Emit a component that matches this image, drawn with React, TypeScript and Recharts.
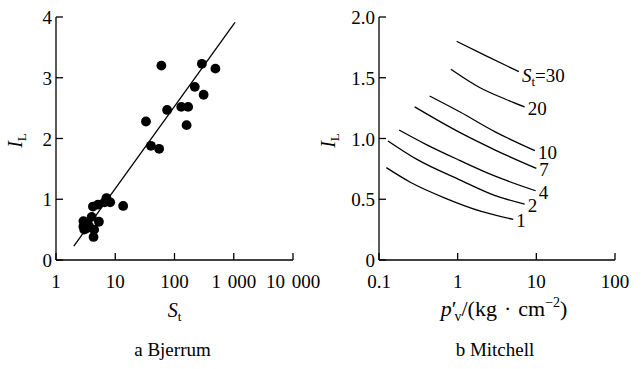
import React from 'react';
import { ScatterChart, Scatter, XAxis, YAxis } from 'recharts';

const FONT = 'Liberation Serif, DejaVu Serif, Times New Roman, serif';
const INK = '#000';

// a Bjerrum: sensitivity St against liquidity index IL
const bjerrumSt = [60, 290, 490, 220, 310, 75, 130, 170, 160, 33, 40, 55,
  4.2, 5.1, 7.1, 6.6, 8.2, 13.6, 4.0, 3.3, 2.9, 2.9, 3.3, 5.3, 4.4, 3.6, 4.3, 3.0];
const bjerrumIL = [3.2, 3.23, 3.15, 2.85, 2.72, 2.47, 2.52, 2.52, 2.22, 2.28, 1.88, 1.83,
  0.88, 0.91, 1.02, 0.95, 0.95, 0.89, 0.71, 0.62, 0.64, 0.55, 0.52, 0.63, 0.5, 0.56, 0.38, 0.5];
const fitSt = [2, 1050];
const fitIL = [0.23, 3.91];
const bjerrumXTicks = [1, 10, 100, 1000, 10000];
const bjerrumXLabels = ['1', '10', '100', '1 000', '10 000'];
const bjerrumYTicks = [0, 1, 2, 3, 4];

// b Mitchell: IL against effective vertical stress, one curve per St
const mitchellSt = ['30', '20', '10', '7', '4', '2', '1'];
const mitchellP = [
  [0.97, 2.3, 6],
  [0.82, 1.9, 4, 7.1],
  [0.44, 1.06, 3, 9.6],
  [0.284, 1.06, 3, 10],
  [0.18, 0.4, 1.06, 3, 9.8],
  [0.13, 0.3, 1.06, 3, 7.1],
  [0.124, 0.25, 0.69, 2, 5.1],
];
const mitchellIL = [
  [1.8, 1.68, 1.55],
  [1.57, 1.42, 1.325, 1.26],
  [1.35, 1.22, 1.055, 0.9],
  [1.26, 1.05, 0.905, 0.754],
  [1.07, 0.95, 0.82, 0.69, 0.57],
  [0.98, 0.83, 0.66, 0.53, 0.46],
  [0.76, 0.64, 0.51, 0.4, 0.334],
];
const mitchellXTicks = [0.1, 1, 10, 100];
const mitchellYTicks = [0, 0.5, 1, 1.5, 2];

const bjerrumData = bjerrumSt.map((st, i) => ({ st, il: bjerrumIL[i] }));
const fitData = fitSt.map((st, i) => ({ st, il: fitIL[i] }));
const mitchellData = mitchellP.map((ps, c) =>
  ps.map((p, i) => ({ p, il: mitchellIL[c][i], label: i === ps.length - 1 ? mitchellSt[c] : null }))
);

const txt = { fontFamily: FONT, fill: INK };

const XTick = (props: any) => {
  const { x, y, payload, fmt } = props;
  return (
    <g>
      <line x1={x} x2={x} y1={y} y2={y - 7} stroke={INK} strokeWidth={1.3} />
      <text x={x} y={y + 28} textAnchor="middle" fontSize={19} fontFamily={FONT} style={{ ...txt, wordSpacing: 2 }}>
        {fmt(payload.value)}
      </text>
    </g>
  );
};

const YTick = (props: any) => {
  const { x, y, payload, fmt } = props;
  return (
    <g>
      <line x1={x} x2={x + 7} y1={y} y2={y} stroke={INK} strokeWidth={1.3} />
      <text x={x - 4} y={y + 7} textAnchor="end" fontSize={19} fontFamily={FONT} style={txt}>
        {fmt(payload.value)}
      </text>
    </g>
  );
};

const ILTitle = (props: any) => {
  const vb = props.viewBox || { x: 0, y: 0, width: 0, height: 0 };
  const x = vb.x + props.at;
  const y = vb.y + vb.height / 2 + 2;
  return (
    <text x={x} y={y} textAnchor="middle" transform={`rotate(-90, ${x}, ${y})`} fontSize={20} fontFamily={FONT} style={txt}>
      <tspan fontStyle="italic">I</tspan>
      <tspan fontSize={13} dy={4}>L</tspan>
    </text>
  );
};

const BjerrumTitle = (props: any) => {
  const vb = props.viewBox || { x: 0, y: 0, width: 0, height: 0 };
  const cx = vb.x + vb.width / 2;
  return (
    <g>
      <text x={cx} y={vb.y + 57} textAnchor="middle" fontSize={20} fontFamily={FONT} style={txt}>
        <tspan fontStyle="italic">S</tspan>
        <tspan fontSize={13} dy={4}>t</tspan>
      </text>
      <text x={cx - 2} y={vb.y + 96} textAnchor="middle" fontSize={19} fontFamily={FONT} style={txt}>a Bjerrum</text>
    </g>
  );
};

const MitchellTitle = (props: any) => {
  const vb = props.viewBox || { x: 0, y: 0, width: 0, height: 0 };
  const cx = vb.x + vb.width / 2;
  return (
    <g>
      <text x={cx + 7} y={vb.y + 56} textAnchor="middle" fontSize={22} fontFamily={FONT} style={txt}>
        <tspan fontStyle="italic">p</tspan>
        <tspan>′</tspan>
        <tspan fontSize={14} dy={5} dx={-2}>v</tspan>
        <tspan dy={-5}>/(kg</tspan>
        <tspan dx={7}>·</tspan>
        <tspan dx={7}>cm</tspan>
        <tspan fontSize={14} dy={-9}>−2</tspan>
        <tspan dy={9}>)</tspan>
      </text>
      <text x={cx - 2} y={vb.y + 96} textAnchor="middle" fontSize={19} fontFamily={FONT} style={txt}>b Mitchell</text>
    </g>
  );
};

const Dot = (props: any) => <circle cx={props.cx} cy={props.cy} r={4.9} fill={INK} />;
const Empty = () => <g />;

const CurveEnd = (props: any) => {
  const lab = props.payload && props.payload.label;
  if (!lab) return <g />;
  const x = props.cx + 3;
  const y = props.cy + 8;
  if (lab === '30') {
    return (
      <text x={x} y={y + 2} fontSize={19} fontFamily={FONT} style={txt}>
        <tspan fontStyle="italic">S</tspan>
        <tspan fontSize={13} dy={4}>t</tspan>
        <tspan dy={-4}>=30</tspan>
      </text>
    );
  }
  return (
    <text x={x} y={y} fontSize={19} fontFamily={FONT} style={txt}>{lab}</text>
  );
};

const axisLine = { stroke: INK, strokeWidth: 1.3 };

export default function App() {
  return (
    <div style={{ position: 'absolute', left: 0, top: 0, width: 643, height: 369, background: '#fff', fontFamily: FONT }}>
      <div style={{ position: 'absolute', left: 0, top: 0 }}>
        <ScatterChart width={340} height={369} margin={{ top: 17, right: 47, bottom: 0, left: 0 }}>
          <XAxis
            type="number"
            dataKey="st"
            scale="log"
            domain={[1, 10000]}
            ticks={bjerrumXTicks}
            interval={0}
            allowDataOverflow
            height={109}
            tickSize={0}
            tickMargin={0}
            tickLine={false}
            axisLine={axisLine}
            tick={(p: any) => <XTick {...p} fmt={(v: number) => bjerrumXLabels[bjerrumXTicks.indexOf(v)]} />}
            label={{ content: (p: any) => <BjerrumTitle {...p} /> }}
          />
          <YAxis
            type="number"
            dataKey="il"
            domain={[0, 4]}
            ticks={bjerrumYTicks}
            interval={0}
            width={56}
            tickSize={0}
            tickMargin={0}
            tickLine={false}
            axisLine={axisLine}
            tick={(p: any) => <YTick {...p} fmt={(v: number) => String(v)} />}
            label={{ content: (p: any) => <ILTitle {...p} at={22} /> }}
          />
          <Scatter data={bjerrumData} shape={Dot} isAnimationActive={false} />
          <Scatter data={fitData} shape={Empty} line={{ stroke: INK, strokeWidth: 1.3 }} isAnimationActive={false} />
        </ScatterChart>
      </div>
      <div style={{ position: 'absolute', left: 310, top: 0 }}>
        <ScatterChart width={333} height={369} margin={{ top: 17, right: 28, bottom: 0, left: 0 }}>
          <XAxis
            type="number"
            dataKey="p"
            scale="log"
            domain={[0.1, 100]}
            ticks={mitchellXTicks}
            interval={0}
            allowDataOverflow
            height={109}
            tickSize={0}
            tickMargin={0}
            tickLine={false}
            axisLine={axisLine}
            tick={(p: any) => <XTick {...p} fmt={(v: number) => String(v)} />}
            label={{ content: (p: any) => <MitchellTitle {...p} /> }}
          />
          <YAxis
            type="number"
            dataKey="il"
            domain={[0, 2]}
            ticks={mitchellYTicks}
            interval={0}
            width={69}
            tickSize={0}
            tickMargin={0}
            tickLine={false}
            axisLine={axisLine}
            tick={(p: any) => <YTick {...p} fmt={(v: number) => (v === 0 ? '0' : v.toFixed(1))} />}
            label={{ content: (p: any) => <ILTitle {...p} at={25} /> }}
          />
          {mitchellData.map((d, c) => (
            <Scatter
              key={mitchellSt[c]}
              data={d}
              shape={CurveEnd}
              line={{ stroke: INK, strokeWidth: 1.3 }}
              lineJointType="monotoneX"
              isAnimationActive={false}
            />
          ))}
        </ScatterChart>
      </div>
    </div>
  );
}
